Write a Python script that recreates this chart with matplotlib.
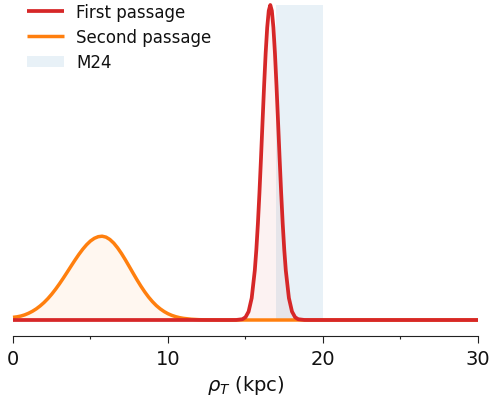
import matplotlib
matplotlib.use("Agg")
import matplotlib.pyplot as plt
from matplotlib.ticker import MultipleLocator

# ---- data (density, arbitrary units; first-passage peak = 1) ----
first_x = [0.0, 14.0, 14.4, 14.8, 15.0, 15.2, 15.4, 15.6, 15.7, 15.8, 15.9, 16.0,
           16.1, 16.2, 16.3, 16.4, 16.5, 16.6, 16.7, 16.8, 16.9, 17.0, 17.1, 17.2,
           17.3, 17.4, 17.5, 17.6, 17.8, 18.0, 18.2, 18.4, 18.8, 19.2, 30.0]
first_y = [0.0, 0.0, 0.00013, 0.0025, 0.0088, 0.0267, 0.0697, 0.1574, 0.2236, 0.3063,
           0.4041, 0.5139, 0.6298, 0.7439, 0.8467, 0.9287, 0.9817, 1.0, 0.9817, 0.9287,
           0.8467, 0.7439, 0.6298, 0.5139, 0.4041, 0.3063, 0.2236, 0.1574, 0.0697,
           0.0267, 0.0088, 0.0025, 0.00013, 0.0, 0.0]

second_x = [0.0, 0.25, 0.5, 0.75, 1.0, 1.25, 1.5, 1.75, 2.0, 2.25, 2.5, 2.75, 3.0,
            3.25, 3.5, 3.75, 4.0, 4.25, 4.5, 4.75, 5.0, 5.25, 5.5, 5.75, 6.0, 6.25,
            6.5, 6.75, 7.0, 7.25, 7.5, 7.75, 8.0, 8.25, 8.5, 8.75, 9.0, 9.25, 9.5,
            9.75, 10.0, 10.25, 10.5, 10.75, 11.0, 11.5, 12.0, 12.5, 13.0, 13.5, 30.0]
second_y = [0.0085, 0.0100, 0.0125, 0.0162, 0.0213, 0.0276, 0.0353, 0.0446, 0.0554,
            0.0679, 0.0821, 0.0979, 0.1150, 0.1332, 0.1521, 0.1713, 0.1902, 0.2082,
            0.2247, 0.2391, 0.2509, 0.2594, 0.2645, 0.2660, 0.2631, 0.2556, 0.2441,
            0.2289, 0.2110, 0.1910, 0.1699, 0.1485, 0.1275, 0.1076, 0.0892, 0.0726,
            0.0581, 0.0456, 0.0353, 0.0268, 0.0199, 0.0146, 0.0105, 0.0074, 0.0052,
            0.0024, 0.0010, 0.0004, 0.0002, 0.0, 0.0]

m24_range = [17.0, 20.0]
labels = ["First passage", "Second passage", "M24"]
xticks = [0, 10, 20, 30]

# ---- figure ----
fig = plt.figure(figsize=(4.92, 4.02), dpi=100)
ax = fig.add_axes([13 / 492, 1 - 321 / 402, (478 - 13) / 492, (321 - 6) / 402])

red = "#d62728"
orange = "#ff7f0e"
blue = "#1f77b4"

ax.axvspan(m24_range[0], m24_range[1], color=blue, alpha=0.1, lw=0, label=labels[2], zorder=0)
ax.fill_between(second_x, second_y, 0, color=orange, alpha=0.06, lw=0, zorder=1)
ax.fill_between(first_x, first_y, 0, color=red, alpha=0.06, lw=0, zorder=1)
l2, = ax.plot(second_x, second_y, color=orange, lw=2.5, label=labels[1], zorder=3,
              solid_capstyle="butt", clip_on=False)
l1, = ax.plot(first_x, first_y, color=red, lw=2.7, label=labels[0], zorder=4,
              solid_capstyle="butt", clip_on=False)

ax.set_xlim(0, 30)
ax.set_ylim(0, 1.0)

for s in ["left", "top", "right"]:
    ax.spines[s].set_visible(False)
ax.spines["bottom"].set_position(("outward", 11.5))
ax.spines["bottom"].set_color("#222222")
ax.set_yticks([])
ax.set_xticks(xticks)
ax.xaxis.set_minor_locator(MultipleLocator(5))
ax.tick_params(axis="x", which="major", length=4.8, width=0.8, labelsize=14, pad=4.8,
               color="#222222", labelcolor="#111111")
ax.tick_params(axis="x", which="minor", length=2.4, width=0.8, color="#222222")
ax.set_xlabel(r"$\rho_T$ (kpc)", fontsize=14, color="#111111", labelpad=3.5)

handles, lbls = ax.get_legend_handles_labels()
order = [lbls.index(l) for l in labels]
leg = ax.legend([handles[i] for i in order], [lbls[i] for i in order],
                loc="upper left", bbox_to_anchor=(23 / 492, 1 - 0 / 402),
                bbox_transform=fig.transFigure, frameon=False, fontsize=12,
                borderaxespad=0, borderpad=0.25, labelspacing=0.42,
                handlelength=2.2, handletextpad=0.75)
for t in leg.get_texts():
    t.set_color("#111111")

fig.savefig("out.png", dpi=100)
